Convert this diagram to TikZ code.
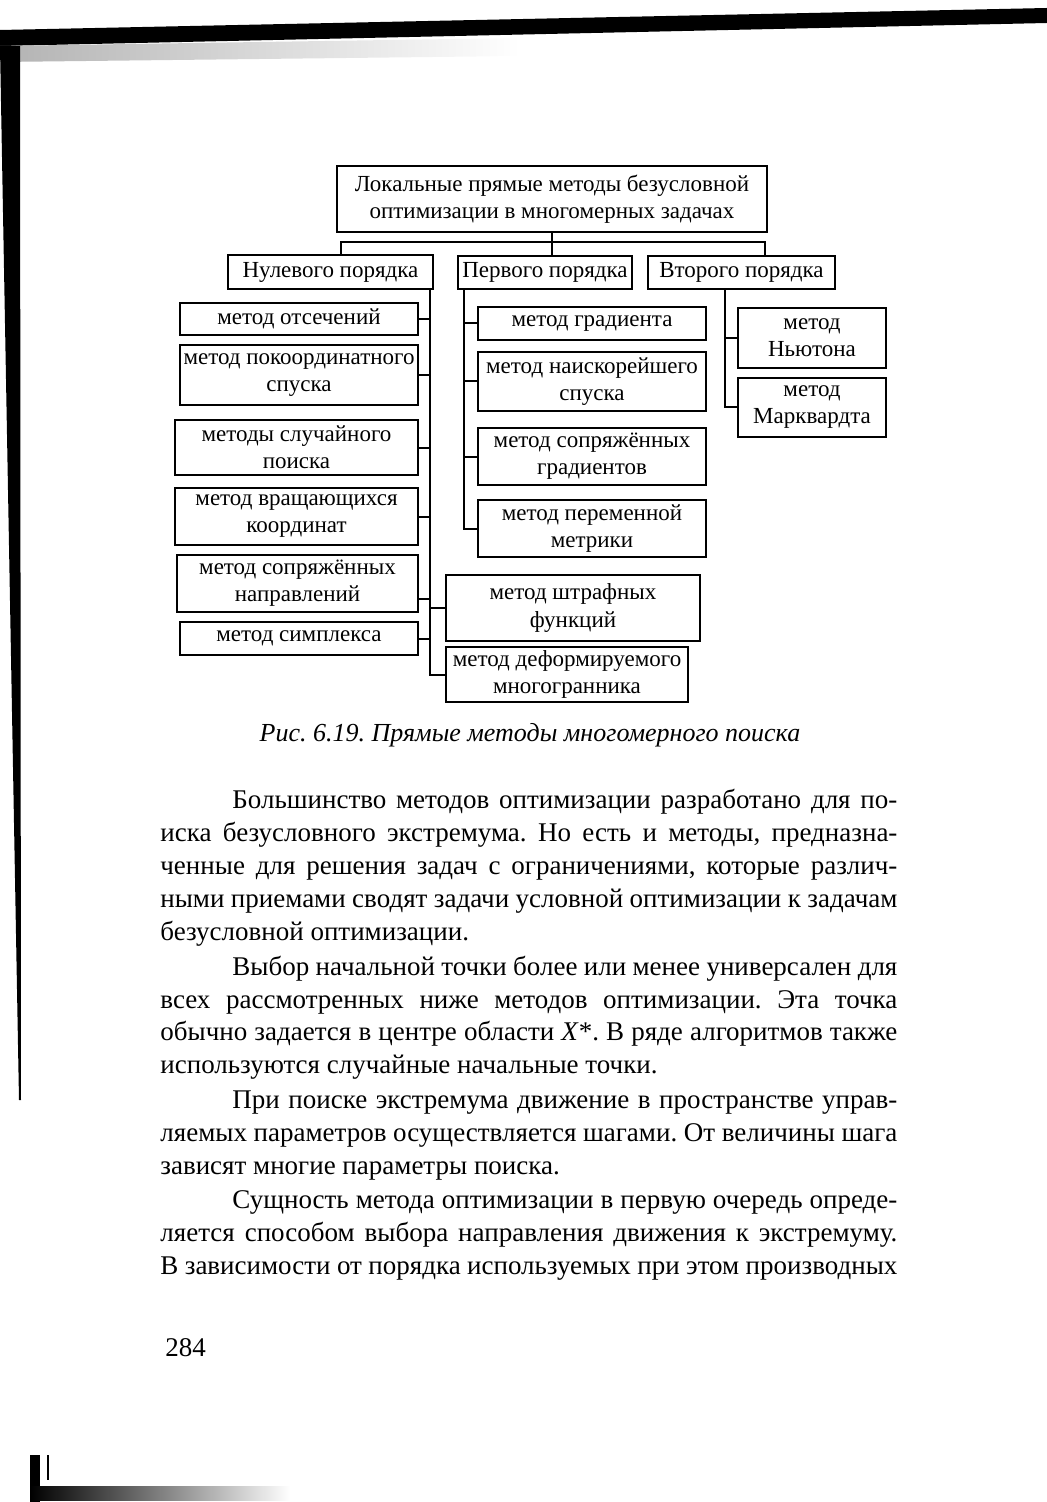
\documentclass[tikz,border=0pt]{standalone}
\usepackage{fontspec}
\setmainfont{Liberation Serif}
\usepackage{tikz}
\newcommand\dgfont{\fontsize{11.5}{13.5}\selectfont}
\newcommand\txfont{\fontsize{13.5}{16.5}\selectfont}
\frenchspacing

\begin{document}
\begin{tikzpicture}[x=0.5pt,y=-0.5pt,
  box/.style={draw,line width=1.1pt,align=center,inner sep=0pt,font=\dgfont},
  wh/.style 2 args={minimum width=#1,minimum height=#2},
  link/.style={line width=1pt},
  ln/.style={anchor=base west,inner sep=0pt,font=\txfont}]
  \useasboundingbox (0,0) rectangle (1047,1502);
  % scan edges
  \fill (0,30) -- (1047,8) -- (1047,23) -- (0,46) -- cycle;
  \shade[left color=gray!60,right color=white] (0,46) -- (520,38) -- (520,56) -- (0,62) -- cycle;
  \fill (0,46) -- (20,46) -- (21,1100) -- (19,1100) -- cycle;
  \fill (30,1455) rectangle (40,1502);
  \shade[left color=black,right color=white] (30,1486) rectangle (290,1500);
  \draw[line width=1pt] (48,1455) -- (48,1480);

  % boxes
  \node[box,wh={215pt}{33pt}] (top) at (552,199) {Локальные прямые методы безусловной\\оптимизации в многомерных задачах};
  \node[box,wh={102.5pt}{17pt}] (nul) at (330.5,272) {Нулевого порядка};
  \node[box,wh={87pt}{16.5pt}] (perv) at (545,272.5) {Первого порядка};
  \node[box,wh={93.5pt}{16.5pt}] (vtor) at (741.5,272.5) {Второго порядка};

  \node[box,wh={119pt}{16pt}] (ots) at (299,319) {метод отсечений};
  \node[box,wh={119pt}{30pt}] (pokoord) at (299,375) {метод покоординатного\\спуска};
  \node[box,wh={121.5pt}{27.5pt}] (sluch) at (296.5,447.5) {методы случайного\\поиска};
  \node[box,wh={121.5pt}{28.5pt}] (vrasch) at (296.5,516.5) {метод вращающихся\\координат};
  \node[box,wh={120.5pt}{28.5pt}] (sopnapr) at (297.5,583.5) {метод сопряжённых\\направлений};
  \node[box,wh={119pt}{16.5pt}] (simpl) at (299,638.5) {метод симплекса};

  \node[box,wh={114pt}{16.5pt}] (grad) at (592,323.5) {метод градиента};
  \node[box,wh={114pt}{29.5pt}] (naisk) at (592,381.5) {метод наискорейшего\\спуска};
  \node[box,wh={114pt}{28.5pt}] (sopgrad) at (592,456.5) {метод сопряжённых\\градиентов};
  \node[box,wh={114pt}{28.5pt}] (perm) at (592,528.5) {метод переменной\\метрики};

  \node[box,wh={74pt}{30pt}] (newt) at (812,338) {метод\\Ньютона};
  \node[box,wh={74pt}{29.5pt}] (markv) at (812,407.5) {метод\\Марквардта};

  \node[box,wh={127pt}{33pt}] (shtraf) at (573,608) {метод штрафных\\функций};
  \node[box,wh={121pt}{27.5pt}] (deform) at (567,674.5) {метод деформируемого\\многогранника};

  % connectors
  \coordinate (busl) at (341,242);
  \coordinate (busr) at (765,242);
  \coordinate (nsp) at (430,0);
  \coordinate (psp) at (464,0);
  \coordinate (vsp) at (725,0);
  \draw[link] (top.south) -- (top.south |- perv.north);
  \draw[link] (nul.north -| busl) -- (busl) -- (busr) -- (vtor.north -| busr);

  \draw[link] (nul.south -| nsp) |- (deform.west);
  \foreach \n in {ots,pokoord,sluch,vrasch,simpl}
    \draw[link] (\n.east) -- (\n.east -| nsp);
  \draw[link] ([yshift=-7.5pt]sopnapr.east) -- ([yshift=-7.5pt]sopnapr.east -| nsp);
  \draw[link] (shtraf.west) -- (shtraf.west -| nsp);

  \draw[link] (perv.south -| psp) |- (perm.west);
  \foreach \n in {grad,naisk,sopgrad}
    \draw[link] (\n.west) -- (\n.west -| psp);

  \draw[link] (vtor.south -| vsp) |- (markv.west);
  \draw[link] (newt.west) -- (newt.west -| vsp);

  % caption and text
  \node[anchor=base,inner sep=0pt,font=\fontsize{13}{16}\selectfont\itshape] (cap) at (530,741) {Рис. 6.19. Прямые методы многомерного поиска};

  \node[ln] (b1) at (232,808) {\makebox[332.5pt][s]{Большинство методов оптимизации разработано для по-}};
  \node[ln] (b2) at (160,841) {\makebox[368.5pt][s]{иска безусловного экстремума. Но есть и методы, предназна-}};
  \node[ln] (b3) at (160,874) {\makebox[368.5pt][s]{ченные для решения задач с ограничениями, которые различ-}};
  \node[ln] (b4) at (160,907) {\makebox[368.5pt][s]{ными приемами сводят задачи условной оптимизации к задачам}};
  \node[ln] (b5) at (160,940) {безусловной оптимизации.};

  \node[ln] (b6) at (232,975) {\makebox[332.5pt][s]{Выбор начальной точки более или менее универсален для}};
  \node[ln] (b7) at (160,1008) {\makebox[368.5pt][s]{всех рассмотренных ниже методов оптимизации. Эта точка}};
  \node[ln] (b8) at (160,1040) {\makebox[368.5pt][s]{обычно задается в центре области \textit{X}*. В ряде алгоритмов также}};
  \node[ln] (b9) at (160,1073) {используются случайные начальные точки.};

  \node[ln] (b10) at (232,1108) {\makebox[332.5pt][s]{При поиске экстремума движение в пространстве управ-}};
  \node[ln] (b11) at (160,1141) {\makebox[368.5pt][s]{ляемых параметров осуществляется шагами. От величины шага}};
  \node[ln] (b12) at (160,1174) {зависят многие параметры поиска.};

  \node[ln] (b13) at (232,1208) {\makebox[332.5pt][s]{Сущность метода оптимизации в первую очередь опреде-}};
  \node[ln] (b14) at (160,1241) {\makebox[368.5pt][s]{ляется способом выбора направления движения к экстремуму.}};
  \node[ln] (b15) at (160,1274) {\makebox[368.5pt][s]{В зависимости от порядка используемых при этом производных}};

  \node[ln] (pnum) at (165,1356) {284};
\end{tikzpicture}
\end{document}
